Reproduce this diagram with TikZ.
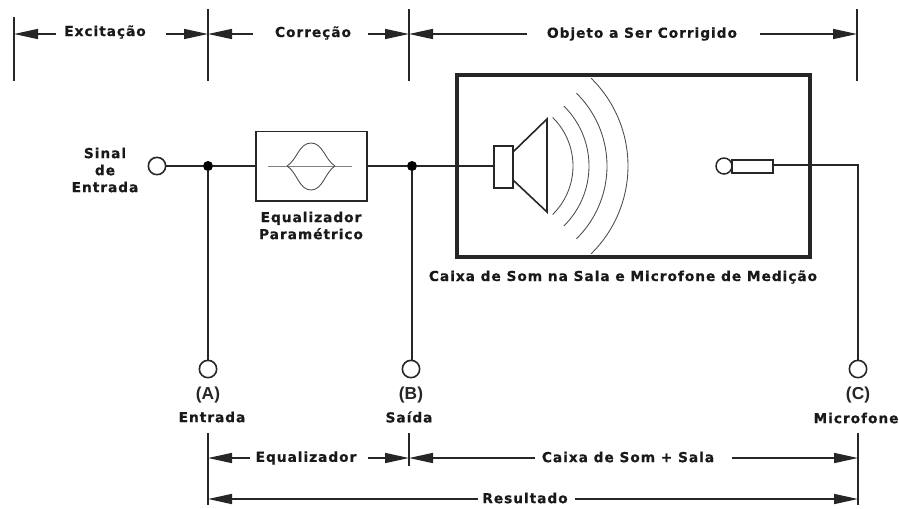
\documentclass[tikz,border=0pt]{standalone}
\usepackage{fontspec}
\setmainfont[LetterSpace=7,BoldFeatures={FakeBold=0.6}]{DejaVu Sans}
\newfontfamily\lblfont{Liberation Sans}
\usetikzlibrary{arrows.meta}
\tikzset{
  x=0.75pt,y=-0.75pt,
  thinline/.style={line width=1.2pt,color=black!85},
  dim/.style={line width=1.2pt,color=black!85},
  dimtip/.style={-{Triangle[length=18pt,width=7.5pt]}},
  lbl/.style={font=\fontsize{10.3}{12.75}\selectfont\bfseries,text=black!90,inner sep=0pt,align=center},
  letter/.style={font=\lblfont\fontsize{13}{15}\selectfont\bfseries,text=black!85,inner sep=0pt},
  port/.style={circle,draw=black!85,line width=1.2pt,fill=white,minimum size=13pt,inner sep=0pt},
  junction/.style={circle,fill=black,minimum size=7.5pt,inner sep=0pt},
  block/.style={rectangle,draw=black!85,inner sep=0pt,outer sep=0pt,anchor=north west},
  wave/.style={line width=0.65pt,color=black!70},
}
\begin{document}
\begin{tikzpicture}
\useasboundingbox (0,0) rectangle (899,508);
% top dimension ticks
\coordinate (t0a) at (14,17);  \coordinate (t0b) at (14,81);
\coordinate (t1a) at (208,9);  \coordinate (t1b) at (208,81);
\coordinate (t2a) at (409,9);  \coordinate (t2b) at (409,81);
\coordinate (t3a) at (857,9);  \coordinate (t3b) at (857,81);
\foreach \n in {0,1,2,3} \draw[dim] (t\n a) -- (t\n b);
\node[lbl] (excit) at (105,32) {Excitação};
\node[lbl] (corr) at (313,33) {Correção};
\node[lbl] (objeto) at (642,34) {Objeto a Ser Corrigido};
\coordinate (e0) at (14,34); \coordinate (e1) at (208,34); \coordinate (e2) at (409,34); \coordinate (e3) at (857,34);
\coordinate (l1) at (56,34); \coordinate (l2) at (166,34);
\coordinate (l3) at (253,34); \coordinate (l4) at (368,34);
\coordinate (l5) at (527,34); \coordinate (l6) at (760,34);
\draw[dim,dimtip] (l1) -- (e0);
\draw[dim,dimtip] (l2) -- (e1);
\draw[dim,dimtip] (l3) -- (e1);
\draw[dim,dimtip] (l4) -- (e2);
\draw[dim,dimtip] (l5) -- (e2);
\draw[dim,dimtip] (l6) -- (e3);
% signal chain
\node[lbl] (sinal) at (105,170) {Sinal\\de\\Entrada};
\node[port] (in) at (157,166) {};
\node[junction] (ja) at (208,166) {};
\node[junction] (jb) at (412,166) {};
\node[block,line width=1.4pt,minimum width=83.25pt,minimum height=52pt] (eq) at (256,131.5) {};
\node[block,line width=2.4pt,minimum width=264.75pt,minimum height=136.5pt] (room) at (457,75) {};
\node[block,line width=1.1pt,minimum width=14.25pt,minimum height=31.5pt] (drv) at (494,146) {};
\draw[thinline] (in) -- (ja) -- (eq.west |- ja);
\draw[thinline] (eq.east |- jb) -- (jb) -- (drv.west |- jb);
% equalizer curve
\draw[wave,black!50] (268,166) -- (352,166);
\draw[wave] (287,166) .. controls (297,160) and (299,143) .. (311,143) .. controls (323,143) and (325,160) .. (335,166);
\draw[wave] (287,166) .. controls (297,172) and (299,190) .. (311,190) .. controls (323,190) and (325,172) .. (335,166);
\node[lbl] (eqlbl) at (311,225.5) {Equalizador\\Paramétrico};
% loudspeaker
\draw[line width=1.2pt,color=black!85,line join=miter] (513,152) -- (547,119) -- (547,212) -- (513,180);
\foreach \r in {68,84,102,123}
  \draw[wave] plot[smooth,domain=-45.5:45.5,samples=25] ({505+\r*cos(\x)},{166+\r*sin(\x)});
% microphone
\node[port,line width=1.1pt,minimum size=12pt] (micc) at (724,166) {};
\node[block,line width=1.1pt,minimum width=30.75pt,minimum height=9.75pt] (micb) at (732,160) {};
\node[lbl] (roomlbl) at (623,277) {Caixa de Som na Sala e Microfone de Medição};
% test points
\node[port] (pa) at (208,369) {};
\node[port] (pb) at (411,369) {};
\node[port] (pc) at (858,369) {};
\coordinate (corner) at (858,165);
\draw[thinline] (ja) -- (pa);
\draw[thinline] (jb) -- (jb |- pb.north);
\draw[thinline] (micb.east |- corner) -- (corner) -- (pc);
\node[letter] (la) at (208,395) {(A)};
\node[letter] (lb) at (411,395) {(B)};
\node[letter] (lc) at (858,395) {(C)};
\node[lbl] (ea) at (212,417) {Entrada};
\node[lbl] (eb) at (409,417) {Saída};
\node[lbl] (ec) at (856,418) {Microfone};
% bottom dimensions
\coordinate (b1a) at (208,433); \coordinate (b1b) at (208,505);
\coordinate (b2a) at (409,433); \coordinate (b2b) at (409,466);
\coordinate (b3a) at (858,433); \coordinate (b3b) at (858,505);
\foreach \n in {1,2,3} \draw[dim] (b\n a) -- (b\n b);
\node[lbl] (beq) at (306,458) {Equalizador};
\node[lbl] (bcs) at (628,457) {Caixa de Som + Sala};
\node[lbl] (bres) at (525,498) {Resultado};
\coordinate (m1) at (208,458); \coordinate (m2) at (409,458); \coordinate (m3) at (858,458);
\coordinate (n1) at (250,458); \coordinate (n2) at (368,458); \coordinate (n3) at (535,458); \coordinate (n4) at (732,458);
\draw[dim,dimtip] (n1) -- (m1);
\draw[dim,dimtip] (n2) -- (m2);
\draw[dim,dimtip] (n3) -- (m2);
\draw[dim,dimtip] (n4) -- (m3);
\coordinate (r1) at (208,499); \coordinate (r2) at (858,499);
\coordinate (s1) at (478,499); \coordinate (s2) at (575,499);
\draw[dim,dimtip] (s1) -- (r1);
\draw[dim,dimtip] (s2) -- (r2);
\end{tikzpicture}
\end{document}
